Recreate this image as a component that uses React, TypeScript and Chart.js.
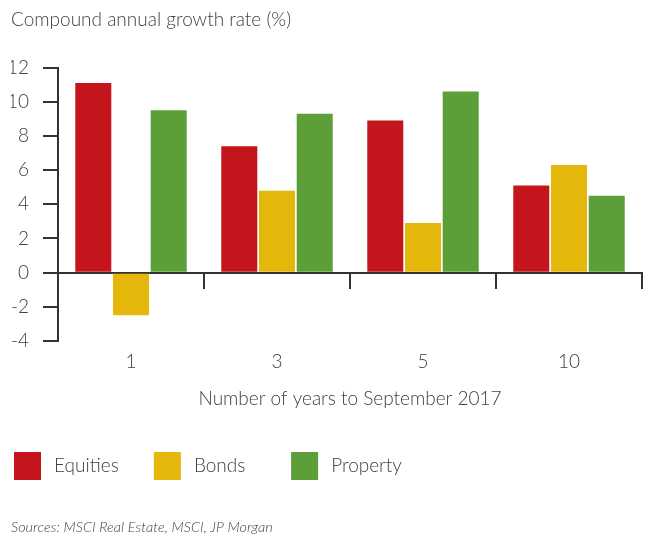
import React, { useEffect, useRef } from "react";
import { Chart, registerables } from "chart.js";

Chart.register(...registerables);

const categories = ["1", "3", "5", "10"];
const equities = [11.1, 7.4, 8.9, 5.1];
const bonds = [-2.5, 4.8, 2.9, 6.3];
const property = [9.5, 9.3, 10.6, 4.5];
const yTicks = { min: -4, max: 12, step: 2 };

const seriesNames = ["Equities", "Bonds", "Property"];
const seriesColors = ["#C4141C", "#E5B70A", "#5C9F38"];

const chartTitle = "Compound annual growth rate (%)";
const xTitle = "Number of years to September 2017";
const sourceText = "Sources: MSCI Real Estate, MSCI, JP Morgan";

const FONT = "Lato, 'Open Sans', sans-serif";
const W = 300;
const TEXT = "#404040";
const AXIS = "#333333";

// desired horizontal advance of each legend item (box + gap + text + padding)
const LEGEND_ADV = [141, 138, 130];
const LEGEND_FONT = 19;
const LEGEND_BOX = 27;
const LEGEND_PAD = 3;

function padText(text: string, target: number): string {
  const c = document.createElement("canvas").getContext("2d")!;
  c.font = `${W} ${LEGEND_FONT}px ${FONT}`;
  let t = "\u2009\u200A" + text;
  let guard = 0;
  while (c.measureText(t + "\u200A").width <= target && guard < 200) {
    t += "\u200A";
    guard++;
  }
  return t;
}

export default function App() {
  const ref = useRef<HTMLCanvasElement | null>(null);

  useEffect(() => {
    if (!ref.current) return;
    const data = [equities, bonds, property];
    const chart = new Chart(ref.current, {
      type: "bar",
      data: {
        labels: categories,
        datasets: seriesNames.map((name, i) => ({
          label: name,
          data: data[i],
          backgroundColor: seriesColors[i],
          borderWidth: 0,
          categoryPercentage: 0.775,
          barPercentage: 0.955,
        })),
      },
      options: {
        responsive: false,
        animation: false,
        layout: { padding: { left: 11, right: 7, top: 0, bottom: 0 } },
        plugins: {
          tooltip: { enabled: false },
          title: {
            display: true,
            text: chartTitle,
            align: "start",
            color: TEXT,
            font: { family: FONT, size: 19, weight: W },
            padding: { top: 8.6, bottom: 36.2 },
          },
          subtitle: {
            display: true,
            position: "bottom",
            text: sourceText,
            align: "start",
            color: TEXT,
            font: { family: FONT, size: 14.5, style: "italic", weight: W },
            padding: { top: 28.3, bottom: 2.3 },
          },
          legend: {
            position: "bottom",
            align: "start",
            labels: {
              boxWidth: LEGEND_BOX,
              boxHeight: 28,
              padding: LEGEND_PAD,
              color: TEXT,
              font: { family: FONT, size: LEGEND_FONT, weight: W },
              generateLabels: (ch: any) => {
                const base = Chart.defaults.plugins.legend.labels.generateLabels(ch);
                return base.map((item: any, i: number) => ({
                  ...item,
                  lineWidth: 0,
                  text: padText(
                    item.text,
                    LEGEND_ADV[i] - LEGEND_BOX - LEGEND_FONT / 2 - LEGEND_PAD
                  ),
                }));
              },
            },
          },
        },
        scales: {
          x: {
            type: "category",
            position: "bottom",
            offset: true,
            grid: { display: false, drawTicks: false },
            border: { display: false },
            ticks: {
              color: TEXT,
              padding: 9,
              font: { family: FONT, size: 19, weight: W },
            },
            title: {
              display: true,
              text: xTitle,
              color: TEXT,
              font: { family: FONT, size: 19, weight: W },
              padding: { top: 0, bottom: 38.6 },
            },
            afterFit: (s: any) => {
              s.height = 108;
            },
          },
          x2: {
            type: "category",
            position: { y: 0 },
            offset: true,
            grid: {
              display: true,
              drawOnChartArea: false,
              drawTicks: true,
              offset: true,
              tickLength: 15,
              color: AXIS,
              lineWidth: 2,
            },
            border: { display: true, color: AXIS, width: 2 },
            ticks: { display: false },
          },
          y: {
            min: yTicks.min,
            max: yTicks.max,
            grid: {
              drawOnChartArea: false,
              drawTicks: true,
              tickLength: 15,
              color: AXIS,
              lineWidth: 2,
            },
            border: { display: true, color: AXIS, width: 2 },
            ticks: {
              stepSize: yTicks.step,
              color: TEXT,
              padding: 14,
              font: { family: FONT, size: 19, weight: W },
            },
            afterFit: (s: any) => {
              s.width = 47;
            },
          },
        },
      } as any,
    });
    return () => chart.destroy();
  }, []);

  return (
    <div style={{ position: "fixed", left: 0, top: 0, width: 649, height: 538, background: "#fff" }}>
      <canvas ref={ref} width={649} height={538} style={{ display: "block" }} />
    </div>
  );
}
